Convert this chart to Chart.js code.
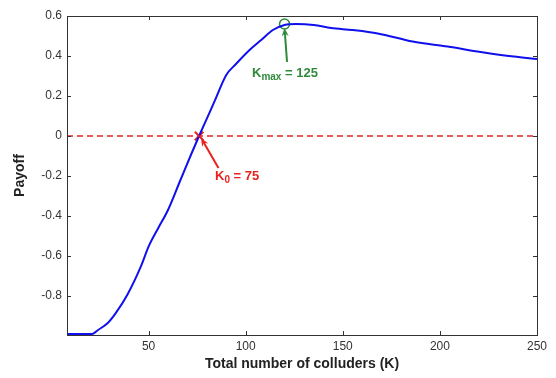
<!DOCTYPE html>
<html>
<head>
<meta charset="utf-8">
<script src="https://cdn.jsdelivr.net/npm/chart.js@4.4.1/dist/chart.umd.min.js"></script>
<style>
html, body { margin: 0; padding: 0; background: #fff; }
#wrap { width: 556px; height: 378px; }
</style>
</head>
<body>
<div id="wrap"><canvas id="payoffChart"></canvas></div>
<script>
// payoff vs total number of colluders
const colluders = [8, 15, 21, 24, 29, 33, 39, 46, 50, 55, 60, 66, 72, 76, 80, 84, 90, 95, 102, 108, 114, 120, 126, 135, 144, 155, 168, 186, 204, 221, 238, 250];
const payoff = [-0.99, -0.99, -0.99, -0.97, -0.935, -0.887, -0.795, -0.653, -0.553, -0.46, -0.37, -0.23, -0.09, 0, 0.087, 0.174, 0.305, 0.36, 0.43, 0.48, 0.53, 0.555, 0.56, 0.555, 0.54, 0.53, 0.513, 0.472, 0.447, 0.42, 0.397, 0.385];
const xTicks = [50, 100, 150, 200, 250];
const yTicks = [-0.8, -0.6, -0.4, -0.2, 0, 0.2, 0.4, 0.6];
const xRange = [8, 250];
const yRange = [-0.995, 0.6];
const kZero = { x: 76, y: 0, text: '75' };
const kMax = { x: 120, y: 0.56, text: '125' };
// arrow tails for the two callouts (data units)
const kZeroArrowTail = { x: 86, y: -0.16 };
const kMaxArrowTail = { x: 121.3, y: 0.37 };

const RED = '#e8231f';
const GREEN = '#2f8a3b';
const BLUE = '#1010ee';

function drawArrow(ctx, x1, y1, x2, y2, color) {
    const ang = Math.atan2(y2 - y1, x2 - x1);
    const head = 9;
    ctx.save();
    ctx.strokeStyle = color;
    ctx.fillStyle = color;
    ctx.lineWidth = 2;
    ctx.beginPath();
    ctx.moveTo(x1, y1);
    ctx.lineTo(x2 - Math.cos(ang) * 5, y2 - Math.sin(ang) * 5);
    ctx.stroke();
    ctx.beginPath();
    ctx.moveTo(x2, y2);
    ctx.lineTo(x2 - head * Math.cos(ang - 0.4), y2 - head * Math.sin(ang - 0.4));
    ctx.lineTo(x2 - head * 0.6 * Math.cos(ang), y2 - head * 0.6 * Math.sin(ang));
    ctx.lineTo(x2 - head * Math.cos(ang + 0.4), y2 - head * Math.sin(ang + 0.4));
    ctx.closePath();
    ctx.fill();
    ctx.restore();
}

function drawSubLabel(ctx, x, y, sub, value, color) {
    ctx.save();
    ctx.fillStyle = color;
    ctx.textBaseline = 'middle';
    ctx.textAlign = 'left';
    ctx.font = 'bold 13px "Liberation Sans", Arial, sans-serif';
    ctx.fillText('K', x, y);
    let cx = x + ctx.measureText('K').width;
    ctx.font = 'bold 10px "Liberation Sans", Arial, sans-serif';
    ctx.fillText(sub, cx, y + 4);
    cx += ctx.measureText(sub).width;
    ctx.font = 'bold 13px "Liberation Sans", Arial, sans-serif';
    ctx.fillText(' = ' + value, cx, y);
    ctx.restore();
}

const boxAndNotes = {
    id: 'boxAndNotes',
    afterDraw(chart) {
        const { ctx, chartArea: a, scales } = chart;
        const sx = scales.x, sy = scales.y;
        ctx.save();
        ctx.strokeStyle = '#333';
        ctx.lineWidth = 1;
        ctx.strokeRect(a.left + 0.5, a.top + 0.5, a.right - a.left, a.bottom - a.top);
        ctx.beginPath();
        xTicks.forEach(v => {
            const px = Math.round(sx.getPixelForValue(v)) + 0.5;
            ctx.moveTo(px, a.bottom); ctx.lineTo(px, a.bottom - 4);
            ctx.moveTo(px, a.top); ctx.lineTo(px, a.top + 4);
        });
        yTicks.forEach(v => {
            const py = Math.round(sy.getPixelForValue(v)) + 0.5;
            ctx.moveTo(a.left, py); ctx.lineTo(a.left + 4, py);
            ctx.moveTo(a.right, py); ctx.lineTo(a.right - 4, py);
        });
        ctx.stroke();
        ctx.restore();

        drawArrow(ctx, sx.getPixelForValue(kMaxArrowTail.x), sy.getPixelForValue(kMaxArrowTail.y),
            sx.getPixelForValue(kMax.x), sy.getPixelForValue(kMax.y) + 4, GREEN);
        drawArrow(ctx, sx.getPixelForValue(kZeroArrowTail.x), sy.getPixelForValue(kZeroArrowTail.y),
            sx.getPixelForValue(kZero.x) + 2, sy.getPixelForValue(kZero.y) + 2, RED);

        drawSubLabel(ctx, 252, 73, 'max', kMax.text, GREEN);
        drawSubLabel(ctx, 215, 176, '0', kZero.text, RED);
    }
};

const ctx = document.getElementById('payoffChart');
new Chart(ctx, {
    type: 'line',
    data: {
        datasets: [
            {
                label: 'zero',
                data: [{ x: xRange[0], y: 0 }, { x: xRange[1], y: 0 }],
                borderColor: RED,
                borderWidth: 1.6,
                borderDash: [6, 4],
                pointRadius: 0
            },
            {
                label: 'Payoff',
                data: colluders.map((k, i) => ({ x: k, y: payoff[i] })),
                borderColor: BLUE,
                borderWidth: 2,
                pointRadius: 0,
                cubicInterpolationMode: 'monotone',
                clip: false
            },
            {
                label: 'K0',
                data: [{ x: kZero.x, y: kZero.y }],
                showLine: false,
                pointStyle: 'crossRot',
                pointRadius: 6,
                borderColor: RED,
                borderWidth: 2
            },
            {
                label: 'Kmax',
                data: [{ x: kMax.x, y: kMax.y }],
                showLine: false,
                pointStyle: 'circle',
                pointRadius: 5,
                backgroundColor: 'rgba(0,0,0,0)',
                borderColor: GREEN,
                borderWidth: 1.5
            }
        ]
    },
    options: {
        responsive: true,
        maintainAspectRatio: false,
        animation: false,
        layout: { padding: { top: 16, right: 19, left: 0, bottom: 0 } },
        plugins: {
            legend: { display: false },
            tooltip: { enabled: false }
        },
        scales: {
            x: {
                type: 'linear',
                min: xRange[0],
                max: xRange[1],
                grid: { display: false, drawTicks: false },
                border: { display: false },
                afterBuildTicks: scale => { scale.ticks = xTicks.map(v => ({ value: v })); },
                afterFit: scale => { scale.height = 43; },
                ticks: {
                    color: '#333',
                    padding: 4,
                    maxRotation: 0,
                    font: { family: '"Liberation Sans", Arial, sans-serif', size: 12 }
                },
                title: {
                    display: true,
                    text: 'Total number of colluders (K)',
                    color: '#222',
                    padding: { top: 0, bottom: 5 },
                    font: { family: '"Liberation Sans", Arial, sans-serif', size: 14, weight: 'bold' }
                }
            },
            y: {
                type: 'linear',
                min: yRange[0],
                max: yRange[1],
                grid: { display: false, drawTicks: false },
                border: { display: false },
                afterBuildTicks: scale => { scale.ticks = yTicks.map(v => ({ value: v })); },
                afterFit: scale => { scale.width = 67; },
                ticks: {
                    color: '#333',
                    padding: 5,
                    font: { family: '"Liberation Sans", Arial, sans-serif', size: 12 }
                },
                title: {
                    display: true,
                    text: 'Payoff',
                    color: '#222',
                    padding: { top: 12, bottom: 0 },
                    font: { family: '"Liberation Sans", Arial, sans-serif', size: 14, weight: 'bold' }
                }
            }
        }
    },
    plugins: [boxAndNotes]
});
</script>
</body>
</html>
